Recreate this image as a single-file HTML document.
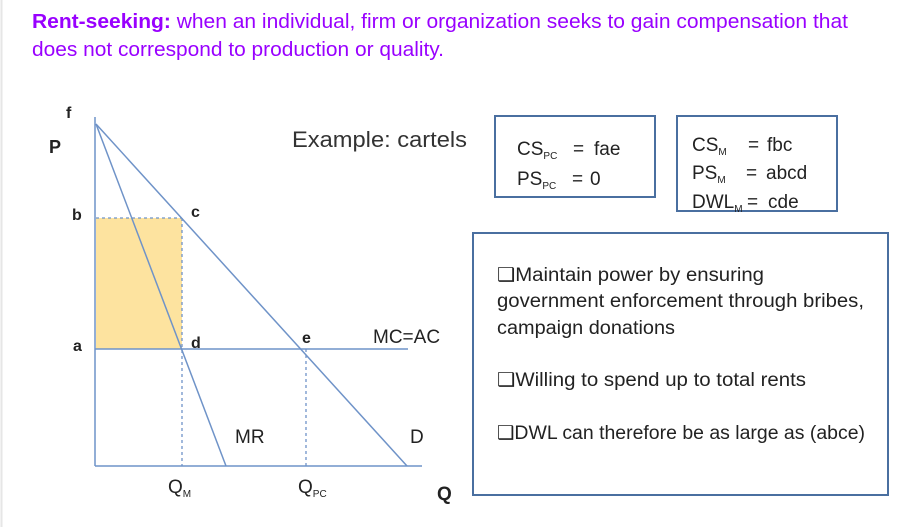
<!DOCTYPE html>
<html><head><meta charset="utf-8"><style>
html,body{margin:0;padding:0;background:#fff;}
body{width:910px;height:527px;overflow:hidden;position:relative;}
svg{position:absolute;left:0;top:0;}
</style></head><body>
<svg width="910" height="527" viewBox="0 0 910 527" xmlns="http://www.w3.org/2000/svg" font-family="Liberation Sans, sans-serif">
<line x1="1.5" y1="0" x2="1.5" y2="527" stroke="#e6e6e6" stroke-width="2"/>
<text x="32" y="28" font-size="20" fill="#9900ff" textLength="816" lengthAdjust="spacingAndGlyphs"><tspan font-weight="bold">Rent-seeking:</tspan> when an individual, firm or organization seeks to gain compensation that</text>
<text x="32" y="56" font-size="20" fill="#9900ff" textLength="412" lengthAdjust="spacingAndGlyphs">does not correspond to production or quality.</text>

<rect x="96" y="218" width="86" height="131" fill="#fde39f"/>
<g stroke="#6f93c8" stroke-width="1.5" fill="none">
<line x1="95" y1="117" x2="95" y2="466"/>
<line x1="95" y1="466" x2="422" y2="466"/>
<line x1="95" y1="349" x2="408" y2="349"/>
<line x1="96" y1="124" x2="407" y2="466"/>
<line x1="96" y1="124" x2="226" y2="466"/>
</g>
<g stroke="#6f93c8" stroke-width="1.3" stroke-dasharray="3,3" fill="none">
<line x1="96" y1="218" x2="182" y2="218"/>
<line x1="182" y1="218" x2="182" y2="466"/>
<line x1="306" y1="349" x2="306" y2="466"/>
</g>
<g font-size="16" font-weight="bold" fill="#222">
<text x="49" y="153" font-size="18">P</text>
<text x="66" y="118">f</text>
<text x="72" y="220">b</text>
<text x="191" y="217">c</text>
<text x="73" y="351">a</text>
<text x="191" y="348">d</text>
<text x="302" y="343">e</text>
</g>
<g font-size="19" fill="#222">
<text x="373" y="343">MC=AC</text>
<text x="235" y="443">MR</text>
<text x="410" y="443">D</text>
<text x="168" y="493">Q<tspan font-size="10" dy="4">M</tspan></text>
<text x="298" y="493">Q<tspan font-size="10" dy="4">PC</tspan></text>
<text x="437" y="500" font-weight="bold">Q</text>
</g>
<text x="292" y="147" font-size="22" fill="#333" textLength="175" lengthAdjust="spacingAndGlyphs">Example: cartels</text>

<g stroke="#4a6fa0" stroke-width="2" fill="none">
<rect x="495" y="116" width="160" height="81"/>
<rect x="677" y="116" width="160" height="95"/>
<rect x="473" y="233" width="415" height="262"/>
</g>
<g font-size="19" fill="#222">
<text x="517" y="155">CS<tspan font-size="10" dy="4">PC</tspan><tspan dy="-4" x="573">=</tspan><tspan x="594">fae</tspan></text>
<text x="517" y="185">PS<tspan font-size="10" dy="4">PC</tspan><tspan dy="-4" x="572">=</tspan><tspan x="590">0</tspan></text>
<text x="692" y="151">CS<tspan font-size="10" dy="4">M</tspan><tspan dy="-4" x="748">=</tspan><tspan x="767">fbc</tspan></text>
<text x="692" y="179">PS<tspan font-size="10" dy="4">M</tspan><tspan dy="-4" x="746">=</tspan><tspan x="766">abcd</tspan></text>
<text x="692" y="208">DWL<tspan font-size="10" dy="4">M</tspan><tspan dy="-4" x="747">=</tspan><tspan x="768">cde</tspan></text>
</g>
<g font-size="19" fill="#222">
<text x="497" y="281" textLength="267" lengthAdjust="spacingAndGlyphs">❑Maintain power by ensuring</text>
<text x="497" y="307" textLength="367" lengthAdjust="spacingAndGlyphs">government enforcement through bribes,</text>
<text x="497" y="334" textLength="178" lengthAdjust="spacingAndGlyphs">campaign donations</text>
<text x="497" y="386" textLength="309" lengthAdjust="spacingAndGlyphs">❑Willing to spend up to total rents</text>
<text x="497" y="439" textLength="368" lengthAdjust="spacingAndGlyphs">❑DWL can therefore be as large as (abce)</text>
</g>
</svg>
</body></html>
